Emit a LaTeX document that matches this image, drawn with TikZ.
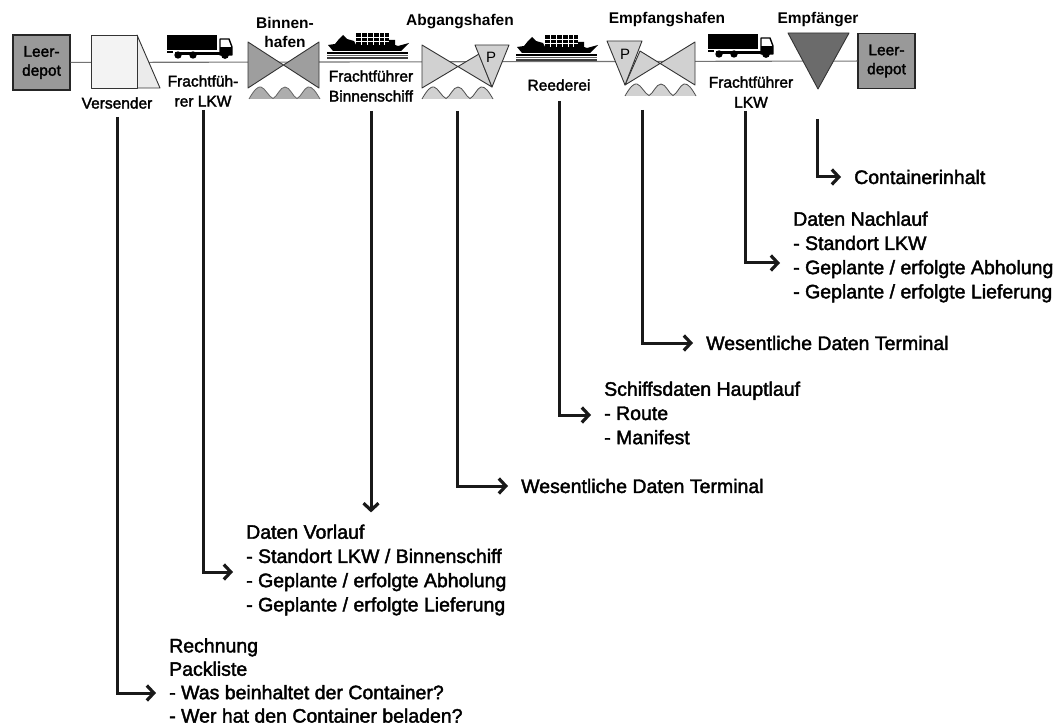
\documentclass[tikz,border=0pt]{standalone}
\usepackage{fontspec}
\setmainfont{Liberation Sans}
\newfontfamily\softbold[FakeBold=2]{Liberation Sans}
\usepackage{tikz}
\usetikzlibrary{arrows.meta}

\definecolor{hafendark}{gray}{0.62}
\definecolor{hafenlight}{gray}{0.82}
\definecolor{depotgray}{gray}{0.6}
\definecolor{versendergray}{gray}{0.92}
\definecolor{empfgray}{gray}{0.42}

\tikzset{
  depot/.style={draw=black!85, line width=1.3pt, fill=depotgray, minimum width=57pt, minimum height=55pt,
    inner sep=0pt, align=center, font=\softbold\fontsize{15.5}{19}\selectfont},
  station/.style={inner sep=0pt, align=center, font=\softbold\fontsize{15.5}{20}\selectfont},
  hafen/.style={inner sep=0pt, font=\bfseries\fontsize{15.5}{19}\selectfont, align=center},
  info/.style={inner sep=0pt, anchor=west, align=left, font=\softbold\fontsize{19.5}{24.2}\selectfont},
  flow/.style={line width=3pt, black!90, -{Straight Barb[length=7pt,width=15pt,line width=3.2pt]}, shorten >=13pt, line join=miter},
  hafenline/.style={draw=black!80, line width=0.9pt, line join=round},
  truck/.pic={
    \fill[black] (0,0) rectangle (50,15);
    \fill[black] (0,16) rectangle (6,18);
    \fill[black] (8,17) rectangle (58,20);
    \draw[black, line width=1.4pt, fill=white, line join=round] (53,4) -- (62,4) -- (65,12) -- (65,20) -- (53,20) -- cycle;
    \fill[black] (53,12) rectangle (65,20);
    \fill[white] (56,6) -- (61,6) -- (63,11) -- (56,11) -- cycle;
    \fill[black] (11,20) circle (3.7);
    \fill[black] (26,20) circle (3.7);
    \fill[black] (58,20) circle (3.9);
  },
  ship/.pic={
    \fill[black] (1,12) -- (8,11) -- (12,6) -- (16,2) -- (20,6) -- (27,8) -- (29,12) -- (62,12) -- (62,7) -- (68,7) -- (68,12) -- (71,13)
      -- (82,10) -- (74,18) -- (6,18) -- cycle;
    \fill[black] (29,0) rectangle (62,13);
    \foreach \gridx in {34,40,46,52,57}
      \draw[white, line width=0.35pt] (\gridx,0) -- (\gridx,12);
    \foreach \gridy in {4,8}
      \draw[white, line width=0.35pt] (29,\gridy) -- (62,\gridy);
    \draw[black, line width=1.2pt] (0,20) -- (81,20);
    \draw[black!60, line width=1.2pt] (0,22.5) -- (81,22.5);
    \draw[black!75, line width=1.2pt] (0,25) -- (81,25);
  },
  wave/.pic={
    \fill[pic actions, draw=none] (0,12) .. controls (5,3) and (9,-1) .. (12,0) .. controls (16,1) and (20,10) .. (24,11.5)
      .. controls (28,10) and (31,0) .. (36,0) .. controls (41,0) and (44,10) .. (48,11.5)
      .. controls (52,10) and (55,1) .. (59,0) .. controls (63,-1) and (67,5) .. (71,12) -- cycle;
    \draw[pic actions, fill=none] (0,12) .. controls (5,3) and (9,-1) .. (12,0) .. controls (16,1) and (20,10) .. (24,11.5)
      .. controls (28,10) and (31,0) .. (36,0) .. controls (41,0) and (44,10) .. (48,11.5)
      .. controls (52,10) and (55,1) .. (59,0) .. controls (63,-1) and (67,5) .. (71,12);
  }
}

\begin{document}
\begin{tikzpicture}[x=1pt,y=-1pt]
  \useasboundingbox (0,0) rectangle (1057,727);

  % transport line
  \node[depot] (leerA) at (41.5,62.5) {Leer-\\depot};
  \node[depot] (leerB) at (886.5,61) {Leer-\\depot};
  \draw[black!55, line width=1.1pt] (leerA) -- (leerB);

  % Versender
  \draw[hafenline, fill=versendergray] (137,35) -- (160,88) -- (137,88) -- cycle;
  \draw[hafenline, fill=versendergray!60] (91,35) rectangle (137,88);

  % Binnenhafen
  \draw[hafenline, fill=hafendark] (248,42) -- (319,88) -- (319,42) -- (248,88) -- cycle;
  \pic[fill=hafendark!85, draw=black!60, line width=0.8pt] at (249,87) {wave};

  % Abgangshafen
  \draw[hafenline, fill=hafenlight] (422,45) -- (492,87) -- (479,54) -- (422,88) -- cycle;
  \draw[hafenline, fill=hafenlight] (475,45) -- (509,45) -- (492,87) -- cycle;
  \pic[fill=hafenlight, draw=black!70, line width=0.8pt] at (422,87) {wave};
  \node[inner sep=0pt, font=\fontsize{15}{15}\selectfont] (pA) at (491,57) {P};

  % Empfangshafen
  \draw[hafenline, fill=hafenlight] (695,42) -- (625,85) -- (640,51) -- (695,85) -- cycle;
  \draw[hafenline, fill=hafenlight] (607,41) -- (642,41) -- (625,85) -- cycle;
  \pic[fill=hafenlight, draw=black!70, line width=0.8pt] at (625,84) {wave};
  \node[inner sep=0pt, font=\fontsize{15}{15}\selectfont] (pE) at (625,54) {P};

  % Empfaenger
  \draw[hafenline, fill=empfgray] (788,33) -- (849,33) -- (818,89) -- cycle;

  % vehicles
  \pic at (167,35) {truck};
  \pic at (327,33) {ship};
  \pic at (516,35) {ship};
  \pic at (708,34) {truck};

  % names
  \node[hafen] (binnen) at (285,32) {Binnen-\\hafen};
  \node[hafen] (abgang) at (460,22) {Abgangshafen};
  \node[hafen] (empfang) at (667,20) {Empfangshafen};
  \node[hafen] (empf) at (818,20) {Empfänger};
  \node[station] (versender) at (117,103) {Versender};
  \node[station] (fLkw) at (203,91) {Frachtfüh-\\rer LKW};
  \node[station] (fSchiff) at (371,86) {Frachtführer\\Binnenschiff};
  \node[station] (reederei) at (559,85) {Reederei};
  \node[station] (fLkwB) at (751,92) {Frachtführer\\LKW};

  % information blocks
  \node[info] (inhalt) at (854,177) {Containerinhalt};
  \node[info] (nachlauf) at (793,257) {Daten Nachlauf\\- Standort LKW\\- Geplante / erfolgte Abholung\\- Geplante / erfolgte Lieferung};
  \node[info] (terminalE) at (706,343) {Wesentliche Daten Terminal};
  \node[info] (schiff) at (604,413) {Schiffsdaten Hauptlauf\\- Route\\- Manifest};
  \node[info] (terminalA) at (521,486) {Wesentliche Daten Terminal};
  \node[info] (vorlauf) at (246,570) {Daten Vorlauf\\- Standort LKW / Binnenschiff\\- Geplante / erfolgte Abholung\\- Geplante / erfolgte Lieferung};
  \node[info, font=\softbold\fontsize{19.5}{23.4}\selectfont] (rechnung) at (169,680.5) {Rechnung\\Packliste\\- Was beinhaltet der Container?\\- Wer hat den Container beladen?};

  % connectors
  \draw[flow] ([yshift=-8pt]versender.south) |- ([yshift=-12.5pt]rechnung.west);
  \draw[flow] ([yshift=-3pt]fLkw.south) |- ([yshift=-2pt]vorlauf.west);
  \draw[flow, shorten >=0pt] (fSchiff.south) ++(0,9) -- ([xshift=125pt,yshift=12pt]vorlauf.north west);
  \coordinate (abgangFoot) at (457,111);
  \draw[flow] (abgangFoot) |- (terminalA.west);
  \draw[flow] ([yshift=-10pt]reederei.south) |- ([yshift=-2pt]schiff.west);
  \coordinate (empfangFoot) at (642,110);
  \draw[flow] (empfangFoot) |- (terminalE.west);
  \draw[flow] ([xshift=-6pt,yshift=-3pt]fLkwB.south) |- ([yshift=-6pt]nachlauf.west);
  \coordinate (empfFoot) at (817,119);
  \draw[flow] (empfFoot) |- (inhalt.west);
\end{tikzpicture}
\end{document}
